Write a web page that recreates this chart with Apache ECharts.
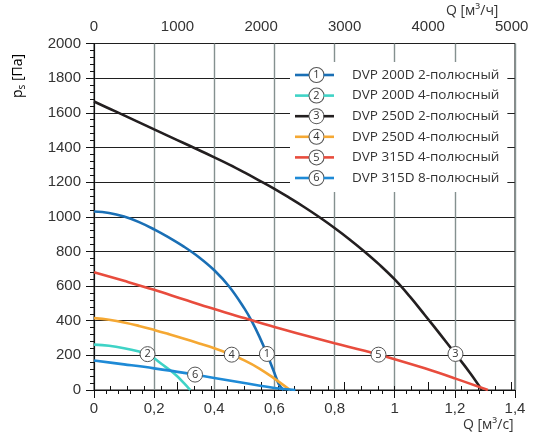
<!DOCTYPE html>
<html><head><meta charset="utf-8">
<script src="https://cdn.jsdelivr.net/npm/echarts@6/dist/echarts.min.js"></script>
<style>html,body{margin:0;padding:0;background:#fff}#c{width:543px;height:443px}</style>
</head><body><div id="c"></div>
<script>
// Series names and colours
const names = ['DVP 200D 2-полюсный','DVP 200D 4-полюсный','DVP 250D 2-полюсный','DVP 250D 4-полюсный','DVP 315D 4-полюсный','DVP 315D 8-полюсный'];
const colors = ['#1a6fb5','#3fd3c6','#231f20','#f5a833','#e84c3d','#1e8ad6'];

// Curve data: Q [m3/s] and ps [Pa]
const q1 = [0, 0.05, 0.1, 0.15, 0.2, 0.25, 0.3, 0.35, 0.4, 0.45, 0.5, 0.525, 0.55, 0.575, 0.6, 0.615, 0.63];
const p1 = [1030, 1022, 1001, 969, 927, 879, 826, 765, 691, 596, 471, 396, 308, 208, 98, 32, 0];
const q2 = [0, 0.05, 0.1, 0.15, 0.175, 0.2, 0.225, 0.25, 0.275, 0.3, 0.32];
const p2 = [262, 255, 241, 222, 209, 183, 150, 118, 82, 38, 0];
const q3 = [0, 0.05, 0.1, 0.15, 0.2, 0.25, 0.3, 0.35, 0.4, 0.45, 0.5, 0.55, 0.6, 0.65, 0.7, 0.75, 0.8, 0.85, 0.9, 0.95, 1.0, 1.05, 1.1, 1.15, 1.2, 1.25, 1.29];
const p3 = [1665, 1625, 1585, 1545, 1504, 1464, 1424, 1384, 1343, 1301, 1256, 1209, 1161, 1109, 1055, 997, 935, 869, 798, 722, 638, 540, 433, 324, 213, 100, 0];
const q4 = [0, 0.05, 0.1, 0.15, 0.2, 0.25, 0.3, 0.35, 0.4, 0.45, 0.5, 0.55, 0.6, 0.652];
const p4 = [415, 405, 390, 370, 347, 322, 296, 269, 241, 209, 171, 124, 66, 0];
const q5 = [0, 0.1, 0.2, 0.3, 0.4, 0.5, 0.6, 0.7, 0.8, 0.9, 1.0, 1.1, 1.2, 1.31];
const p5 = [680, 630, 578, 522, 467, 415, 364, 316, 270, 226, 178, 125, 67, 0];
const q6 = [0, 0.1, 0.2, 0.3, 0.4, 0.5, 0.6, 0.67];
const p6 = [170, 148, 125, 99, 69, 40, 12, 0];

// Circled-number label positions on the curves
const labelQ = [0.575, 0.178, 1.202, 0.458, 0.946, 0.336];
const labelP = [208, 207, 208, 204, 204, 89];

// Axis ranges / ticks
const qMax = 1.4, qStep = 0.2;
const pMax = 2000, pStep = 200;
const qhMax = 5000, qhStep = 1000;

const Q = [q1,q2,q3,q4,q5,q6];
const P = [p1,p2,p3,p4,p5,p6];

const chart = echarts.init(document.getElementById('c'), null, {renderer:'canvas'});
const tickFont = 'Liberation Sans';
const txtFont = 'Open Sans';

const rich = {
  c: {width: 14, height: 14, borderRadius: 8, borderColor: '#555', borderWidth: 1, backgroundColor: '#fff', align: 'center', fontSize: 11, fontFamily: txtFont, color: '#333', lineHeight: 15},
  t: {fontSize: 13.5, fontFamily: txtFont, color: '#333', padding: [0,0,0,18], lineHeight: 15}
};
colors.forEach((col, i) => {
  rich['l'+i] = {width: 14.5, height: 2.6, backgroundColor: col};
  rich['r'+i] = {width: 10.5, height: 2.6, backgroundColor: col};
});

const series = names.map((n, i) => ({
  name: n, type: 'line', xAxisIndex: 0, yAxisIndex: 0,
  data: Q[i].map((q, j) => [q, P[i][j]]),
  smooth: 0.4, showSymbol: false, symbol: 'none',
  lineStyle: {color: colors[i], width: 2.6}, itemStyle: {color: colors[i]},
  animation: false, silent: true,
  markPoint: {
    symbol: 'circle', symbolSize: 15, silent: true, animation: false,
    itemStyle: {color: '#fff', borderColor: '#555', borderWidth: 1},
    label: {show: true, position: 'inside', formatter: String(i+1), color: '#333', fontSize: 11, fontFamily: txtFont},
    data: [{coord: [labelQ[i], labelP[i]]}]
  }
}));

const fmtQ = v => (Math.round(v*10)/10).toString().replace('.', ',');
const fmtInt = v => String(Math.round(v));

chart.setOption({
  animation: false,
  backgroundColor: '#fff',
  title: [
    {text: 'Q [м³/ч]', left: 446, top: 4, padding: 0, textStyle: {fontFamily: txtFont, fontSize: 14, fontWeight: 'normal', color: '#333'}},
    {text: 'Q [м³/с]', left: 463, top: 418, padding: 0, textStyle: {fontFamily: txtFont, fontSize: 14, fontWeight: 'normal', color: '#333'}}
  ],
  grid: [
    {left: 94, right: 28, top: 43.5, bottom: 53, show: true, borderColor: '#111', borderWidth: 1, backgroundColor: 'transparent'},
    {left: 94, right: 543 - 94 - 421 * (qhMax / 3600) / qMax, top: 43.5, bottom: 53}
  ],
  xAxis: [
    {gridIndex: 0, type: 'value', position: 'bottom', min: 0, max: qMax, interval: qStep,
     axisLine: {show: true, lineStyle: {color: '#111', width: 1}},
     axisTick: {show: true, length: 8, lineStyle: {color: '#111'}},
     minorTick: {show: true, splitNumber: 5, length: 4, lineStyle: {color: '#111'}},
     splitLine: {show: true, lineStyle: {color: '#84908f', width: 1.4}},
     axisLabel: {margin: 11.5, formatter: fmtQ, fontFamily: tickFont, fontSize: 15, color: '#333'}},
    {gridIndex: 1, type: 'value', position: 'top', min: 0, max: qhMax, interval: qhStep,
     axisLine: {show: true, lineStyle: {color: '#111', width: 1}},
     axisTick: {show: true, length: 8, lineStyle: {color: '#111'}},
     minorTick: {show: true, splitNumber: 5, length: 4, lineStyle: {color: '#111'}},
     splitLine: {show: false},
     axisLabel: {margin: 9, formatter: fmtInt, fontFamily: tickFont, fontSize: 15, color: '#333'}}
  ],
  yAxis: [
    {gridIndex: 0, type: 'value', min: 0, max: pMax, interval: pStep,
     axisLine: {show: true, lineStyle: {color: '#111', width: 1}},
     axisTick: {show: true, length: 8, lineStyle: {color: '#111'}},
     minorTick: {show: true, splitNumber: 5, length: 4, lineStyle: {color: '#111'}},
     splitLine: {show: true, lineStyle: {color: '#1f1f1f', width: 1}},
     axisLabel: {margin: 13, formatter: fmtInt, fontFamily: tickFont, fontSize: 15, color: '#333'}},
    {gridIndex: 1, type: 'value', min: 0, max: 1, show: false}
  ],
  legend: {
    orient: 'vertical', left: 290, top: 62, padding: [5, 8, 6, 0],
    backgroundColor: '#fff', itemWidth: 0, itemHeight: 0, itemGap: 4.6,
    selectedMode: false, icon: 'rect', align: 'left',
    data: names,
    formatter: function (name) {
      const i = names.indexOf(name);
      return '{l' + i + '|}{c|' + (i + 1) + '}{r' + i + '|}{t|' + name + '}';
    },
    textStyle: {rich: rich}
  },
  graphic: [{
    type: 'text', x: 18, y: 76, rotation: Math.PI / 2,
    style: {
      text: '{a|p}{b|s}{a| [Па]}', textAlign: 'center', textVerticalAlign: 'middle',
      rich: {a: {fontFamily: txtFont, fontSize: 14, color: '#333', lineHeight: 18},
             b: {fontFamily: txtFont, fontSize: 10, color: '#333', lineHeight: 10, verticalAlign: 'bottom'}}
    }
  }],
  series: series
});
</script></body></html>
